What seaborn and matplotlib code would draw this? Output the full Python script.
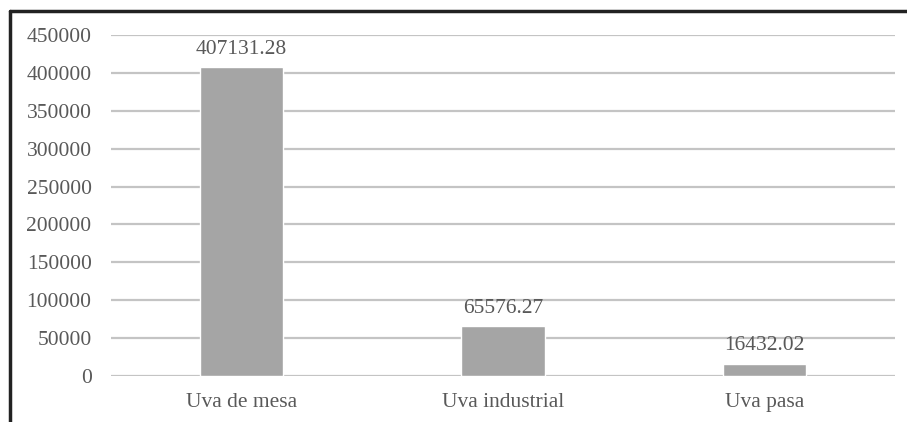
import matplotlib
matplotlib.use("Agg")
import matplotlib.pyplot as plt
import seaborn as sns
import pandas as pd
from matplotlib.lines import Line2D

# Data
categories = ["Uva de mesa", "Uva industrial", "Uva pasa"]
values = [407131.28, 65576.27, 16432.02]
value_labels = ["407131.28", "65576.27", "16432.02"]
yticks = [0, 50000, 100000, 150000, 200000, 250000, 300000, 350000, 400000, 450000]

df = pd.DataFrame({"cat": categories, "val": values})

sns.set_style("white")
plt.rcParams["font.family"] = ["Liberation Serif", "DejaVu Serif"]

text_col = "#595959"
fs = 15.5
fig = plt.figure(figsize=(9.07, 4.22), dpi=100)
ax = fig.add_axes([111 / 907, 1 - 376 / 422, 784 / 907, 341 / 422])

sns.barplot(data=df, x="cat", y="val", color="#a5a5a5", saturation=1,
            width=0.32, ax=ax, zorder=3)

ax.set_ylim(0, 450000)
ax.set_yticks(yticks)
ax.set_yticklabels([str(t) for t in yticks], fontsize=fs, color=text_col)
ax.tick_params(axis="x", labelsize=fs, labelcolor=text_col, length=0, pad=12)
ax.tick_params(axis="y", length=0, pad=14)
ax.set_xlabel("")
ax.set_ylabel("")
ax.grid(axis="y", color="#c4c4c4", linewidth=1.6, zorder=0)
for s in ax.spines.values():
    s.set_visible(False)

for i, (v, lab) in enumerate(zip(values, value_labels)):
    ax.annotate(lab, (i, v), xytext=(0, 6), textcoords="offset points",
                ha="center", va="bottom", fontsize=fs, color=text_col)

# outer frame (left and top edges)
fig.add_artist(Line2D([9.5 / 907, 9.5 / 907], [0, 1 - 11 / 422],
                      transform=fig.transFigure, color="#222222", linewidth=2.5))
fig.add_artist(Line2D([9.5 / 907, 1], [1 - 11 / 422, 1 - 11 / 422],
                      transform=fig.transFigure, color="#222222", linewidth=2.5))

fig.savefig("out.png", dpi=100)
